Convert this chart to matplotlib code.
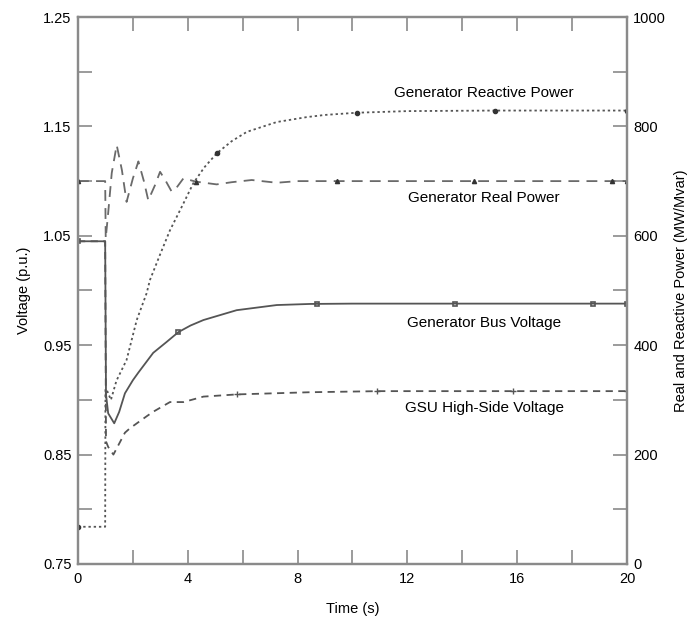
import matplotlib.pyplot as plt
import numpy as np

plt.rcParams['font.family'] = ['Liberation Sans', 'DejaVu Sans']

# Generator reactive power (Mvar)
q_time = [0, 0.99, 1.0, 1.05, 1.2, 1.4, 1.77, 2.14, 2.5, 2.62, 3.0, 3.35, 3.8,
          4.2, 4.6, 5.06, 5.6, 6.15, 7.24, 8.33, 9.0, 10.15, 12, 15.2, 20]
q_vals = [68, 68, 320, 318, 300, 335, 373, 446, 495, 519, 567, 610, 655,
          696, 725, 751, 773, 790, 808, 817, 821, 825, 828, 829, 829]
q_marks = [0, 5.06, 10.15, 15.2, 20]

# Generator real power (MW)
p_time = [0, 0.99, 1.01, 1.1, 1.23, 1.41, 1.6, 1.77, 2.0, 2.2, 2.4, 2.56, 2.8,
          2.99, 3.2, 3.41, 3.62, 3.84, 4.3, 5.05, 5.6, 6.33, 7.24, 8.0, 20]
p_vals = [700, 700, 595, 642, 715, 766, 720, 662, 705, 736, 700, 665, 692,
          717, 700, 681, 690, 705, 699, 694, 698, 702, 697, 700, 700]
p_marks = [0, 4.3, 9.42, 14.43, 19.44, 20]

# Generator bus voltage (p.u.)
vb_time = [0, 0.99, 1.02, 1.1, 1.32, 1.5, 1.71, 2.0, 2.2, 2.74, 3.23, 3.66,
           4.1, 4.57, 5.78, 7.24, 8.45, 10, 20]
vb_vals = [1.045, 1.045, 0.905, 0.8877, 0.8786, 0.889, 0.906, 0.918, 0.925,
           0.943, 0.953, 0.962, 0.968, 0.973, 0.982, 0.9867, 0.9877, 0.988, 0.988]
vb_marks = [0, 3.66, 8.69, 13.73, 18.77, 20]

# GSU high-side voltage (p.u.)
vg_time = [0, 0.99, 1.02, 1.1, 1.29, 1.5, 1.71, 1.89, 2.5, 2.73, 3.35, 3.84,
           4.57, 5.78, 8.45, 11, 20]
vg_vals = [1.045, 1.045, 0.862, 0.857, 0.85, 0.86, 0.87, 0.874, 0.885, 0.889,
           0.898, 0.898, 0.903, 0.905, 0.907, 0.908, 0.908]
vg_marks = [5.78, 10.88, 15.86, 20]

line_col = '#555555'
spine_col = '#8a8a8a'

fig = plt.figure(figsize=(6.89, 6.19), dpi=100)
ax = fig.add_axes([0.1132, 0.0889, 0.7968, 0.8836])
ax2 = ax.twinx()

# voltage curves on left axis
ax.plot(vb_time, vb_vals, color=line_col, lw=1.3, ls='-')
ax.plot(vb_marks, np.interp(vb_marks, vb_time, vb_vals), ls='none',
        marker='s', ms=3.5, mfc='none', mec=line_col, mew=1.2)
ax.plot(vg_time, vg_vals, color=line_col, lw=1.3, ls=(0, (4, 3)))
ax.plot(vg_marks, np.interp(vg_marks, vg_time, vg_vals), ls='none',
        marker='+', ms=4, mec=line_col, mew=1)

# power curves on right axis
ax2.plot(q_time, q_vals, color=line_col, lw=1.3, ls=(0, (1.3, 1.6)))
ax2.plot(q_marks, np.interp(q_marks, q_time, q_vals), ls='none',
         marker='o', ms=3, color='#333333')
ax2.plot(p_time, p_vals, color='#6a6a6a', lw=1.3, ls=(0, (6, 4)))
ax2.plot(p_marks, np.interp(p_marks, p_time, p_vals), ls='none',
         marker='^', ms=3, color='#333333')

ax.set_xlim(0, 20)
ax.set_ylim(0.75, 1.25)
ax2.set_ylim(0, 1000)

ax.set_xticks(np.arange(0, 21, 2))
ax.set_xticklabels([str(v) if v % 4 == 0 else '' for v in range(0, 21, 2)])
yt = np.round(np.arange(0.75, 1.2501, 0.05), 2)
ax.set_yticks(yt)
ax.set_yticklabels([f'{v:.2f}' if i % 2 == 0 else '' for i, v in enumerate(yt)])
ax2.set_yticks(np.arange(0, 1001, 100))
ax2.set_yticklabels([str(v) if v % 200 == 0 else '' for v in range(0, 1001, 100)])

ax.tick_params(axis='x', direction='in', length=10, width=1.2, color=spine_col,
               top=True, labelsize=10.5, pad=5.5)
ax.tick_params(axis='y', direction='in', length=10, width=1.2, color=spine_col,
               labelsize=10.5, pad=4.5)
ax2.tick_params(axis='y', direction='in', length=10, width=1.2, color=spine_col,
                labelsize=10.5, pad=4.5)

for a in (ax, ax2):
    for s in a.spines.values():
        s.set_color(spine_col)
        s.set_linewidth(1.6)

ax.set_xlabel('Time (s)', fontsize=10.5, labelpad=12)
ax.set_ylabel('Voltage (p.u.)', fontsize=10.5, labelpad=9)
ax2.set_ylabel('Real and Reactive Power (MW/Mvar)', fontsize=10.5, labelpad=6)

ax.text(14.8, 1.1805, 'Generator Reactive Power', fontsize=11, ha='center', va='center')
ax.text(14.8, 1.0846, 'Generator Real Power', fontsize=11, ha='center', va='center')
ax.text(14.8, 0.970, 'Generator Bus Voltage', fontsize=11, ha='center', va='center')
ax.text(14.8, 0.8926, 'GSU High-Side Voltage', fontsize=11, ha='center', va='center')

fig.savefig('out.png', dpi=100)
